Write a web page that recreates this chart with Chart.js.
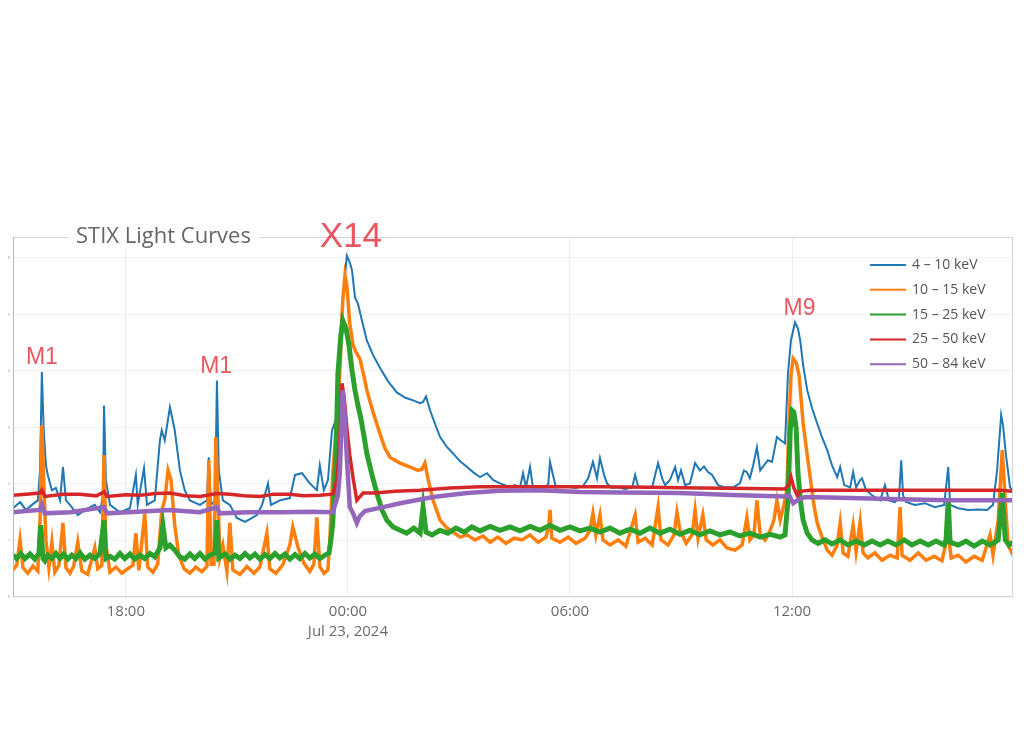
<!DOCTYPE html>
<html>
<head>
<meta charset="utf-8">
<title>STIX Light Curves</title>
<script src="https://cdn.jsdelivr.net/npm/chart.js@4.4.1/dist/chart.umd.min.js"></script>
<style>
    html, body { margin: 0; padding: 0; background: #ffffff; }
    #wrap { width: 1024px; height: 756px; position: relative; }
</style>
</head>
<body>
<div id="wrap"><canvas id="stixChart"></canvas></div>
<script>
// ============ DATA ============
// time = hours since Jul 22, 2024 00:00 UT, values = log10 counts
const chartTitle = 'STIX Light Curves';
const bandNames = ['4 – 10 keV', '10 – 15 keV', '15 – 25 keV', '25 – 50 keV', '50 – 84 keV'];

const blueHours = [14.95, 15.14, 15.30, 15.46, 15.62, 15.68, 15.73, 15.78, 15.84, 15.89, 16.00, 16.11, 16.22, 16.30, 16.38, 16.49, 16.70, 16.89, 17.16, 17.30, 17.38, 17.41, 17.46, 17.57, 17.84, 18.11, 18.27, 18.32, 18.49, 18.57, 18.78, 18.92, 18.97, 19.05, 19.19, 19.32, 19.46, 19.59, 19.73, 20.00, 20.19, 20.24, 20.30, 20.41, 20.46, 20.51, 20.62, 20.81, 21.00, 21.22, 21.54, 21.68, 21.84, 21.92, 22.16, 22.43, 22.57, 22.76, 22.97, 23.16, 23.24, 23.35, 23.46, 23.57, 23.70, 23.84, 23.92, 23.97, 24.05, 24.11, 24.19, 24.27, 24.38, 24.51, 24.68, 24.86, 25.08, 25.32, 25.54, 25.76, 25.95, 26.03, 26.11, 26.22, 26.35, 26.49, 26.68, 26.84, 27.03, 27.22, 27.38, 27.57, 27.76, 27.92, 28.11, 28.24, 28.38, 28.51, 28.65, 28.73, 28.81, 28.92, 29.00, 29.19, 29.41, 29.46, 29.54, 29.62, 29.86, 30.14, 30.35, 30.49, 30.62, 30.73, 30.81, 30.92, 31.00, 31.14, 31.27, 31.49, 31.68, 31.76, 31.84, 32.03, 32.22, 32.38, 32.49, 32.57, 32.70, 32.84, 32.92, 33.00, 33.11, 33.24, 33.38, 33.51, 33.62, 33.73, 33.84, 34.00, 34.19, 34.41, 34.59, 34.70, 34.78, 34.86, 34.95, 35.05, 35.14, 35.24, 35.35, 35.46, 35.59, 35.70, 35.81, 35.89, 35.97, 36.08, 36.16, 36.22, 36.30, 36.41, 36.54, 36.68, 36.81, 36.95, 37.08, 37.22, 37.30, 37.41, 37.57, 37.65, 37.73, 37.84, 37.89, 38.00, 38.16, 38.38, 38.51, 38.62, 38.78, 38.89, 38.95, 39.00, 39.08, 39.32, 39.59, 39.86, 40.11, 40.22, 40.27, 40.49, 40.76, 41.03, 41.27, 41.43, 41.54, 41.65, 41.70, 41.78, 41.89, 41.97];
const blueCounts = [1.57, 1.68, 1.54, 1.63, 1.71, 2.24, 3.98, 2.95, 2.33, 2.16, 1.89, 1.93, 1.71, 2.30, 1.71, 1.63, 1.45, 1.54, 1.63, 1.50, 1.80, 3.39, 2.07, 1.63, 1.50, 1.57, 2.16, 1.63, 2.28, 1.63, 1.71, 2.77, 2.95, 2.77, 3.36, 2.95, 2.24, 1.89, 1.71, 1.63, 1.71, 2.47, 1.63, 1.71, 3.83, 2.24, 1.71, 1.63, 1.40, 1.33, 1.45, 1.63, 2.01, 1.63, 1.71, 1.75, 2.16, 2.19, 2.01, 1.89, 2.33, 1.89, 2.07, 2.95, 3.18, 5.12, 5.69, 6.04, 5.92, 5.78, 5.30, 5.19, 4.89, 4.54, 4.28, 4.06, 3.82, 3.62, 3.53, 3.48, 3.43, 3.45, 3.55, 3.30, 3.07, 2.83, 2.65, 2.54, 2.40, 2.30, 2.21, 2.12, 2.19, 2.07, 2.01, 1.98, 1.94, 1.98, 1.94, 2.19, 1.94, 2.30, 1.93, 1.94, 1.98, 2.39, 2.16, 1.94, 1.96, 1.93, 1.96, 2.10, 2.39, 2.10, 2.46, 2.16, 2.01, 1.93, 1.94, 1.91, 1.94, 2.16, 1.96, 1.93, 1.94, 2.37, 2.10, 1.98, 2.07, 2.30, 2.07, 2.24, 1.98, 2.01, 2.37, 2.24, 2.31, 2.21, 2.16, 1.98, 1.94, 1.94, 2.01, 2.24, 2.21, 2.10, 2.33, 2.65, 2.24, 2.33, 2.42, 2.39, 2.83, 2.77, 2.72, 3.96, 4.54, 4.86, 4.75, 4.54, 4.10, 3.66, 3.34, 3.07, 2.83, 2.60, 2.33, 2.12, 2.30, 1.98, 1.94, 2.21, 1.94, 2.07, 2.10, 1.89, 1.80, 1.71, 1.98, 1.71, 1.68, 1.75, 2.42, 1.80, 1.68, 1.63, 1.66, 1.59, 1.63, 2.30, 1.63, 1.57, 1.54, 1.55, 1.54, 1.63, 2.24, 3.22, 3.04, 2.51, 1.94, 1.89];

const orangeHours = [14.95, 15.05, 15.14, 15.22, 15.35, 15.49, 15.62, 15.68, 15.73, 15.78, 15.84, 15.92, 16.00, 16.08, 16.19, 16.30, 16.38, 16.49, 16.59, 16.70, 16.81, 16.97, 17.16, 17.24, 17.35, 17.41, 17.46, 17.57, 17.73, 17.89, 18.05, 18.19, 18.27, 18.35, 18.51, 18.59, 18.73, 18.86, 18.97, 19.05, 19.14, 19.22, 19.32, 19.43, 19.57, 19.73, 19.89, 20.05, 20.19, 20.24, 20.30, 20.38, 20.43, 20.49, 20.54, 20.62, 20.73, 20.81, 20.89, 21.08, 21.27, 21.46, 21.62, 21.81, 21.89, 22.05, 22.24, 22.43, 22.51, 22.65, 22.81, 22.97, 23.08, 23.16, 23.24, 23.35, 23.46, 23.51, 23.59, 23.70, 23.78, 23.86, 23.92, 23.97, 24.05, 24.14, 24.22, 24.32, 24.43, 24.51, 24.68, 24.86, 25.00, 25.14, 25.41, 25.68, 25.89, 26.00, 26.08, 26.16, 26.30, 26.49, 26.68, 26.84, 27.03, 27.22, 27.43, 27.65, 27.84, 28.05, 28.27, 28.49, 28.70, 28.92, 29.14, 29.35, 29.43, 29.46, 29.51, 29.73, 29.95, 30.16, 30.41, 30.54, 30.62, 30.70, 30.81, 30.89, 31.08, 31.30, 31.51, 31.76, 31.84, 32.03, 32.22, 32.38, 32.46, 32.65, 32.81, 32.89, 32.97, 33.14, 33.30, 33.38, 33.46, 33.59, 33.68, 33.86, 34.05, 34.24, 34.46, 34.65, 34.78, 34.86, 34.97, 35.05, 35.14, 35.27, 35.41, 35.51, 35.59, 35.68, 35.78, 35.86, 35.92, 35.97, 36.03, 36.11, 36.19, 36.30, 36.41, 36.49, 36.59, 36.68, 36.81, 36.95, 37.08, 37.22, 37.30, 37.38, 37.51, 37.65, 37.73, 37.84, 37.92, 38.05, 38.24, 38.43, 38.65, 38.84, 38.92, 38.97, 39.19, 39.41, 39.62, 39.84, 40.05, 40.22, 40.30, 40.49, 40.70, 40.92, 41.14, 41.35, 41.43, 41.57, 41.68, 41.76, 41.84, 41.97];
const orangeCounts = [0.48, 0.56, 1.01, 0.52, 0.42, 0.55, 0.46, 1.36, 3.04, 2.07, 1.01, 0.52, 0.97, 0.44, 0.56, 1.31, 0.52, 0.42, 0.55, 0.97, 0.46, 0.40, 0.87, 0.50, 0.56, 2.51, 0.92, 0.44, 0.53, 0.42, 0.50, 0.56, 1.13, 0.47, 1.48, 0.53, 0.44, 0.58, 1.54, 1.71, 2.24, 2.07, 1.27, 0.74, 0.50, 0.42, 0.53, 0.45, 0.54, 2.42, 0.58, 0.58, 2.83, 1.71, 0.70, 0.92, 0.46, 1.31, 0.48, 0.40, 0.54, 0.42, 0.53, 1.13, 0.50, 0.42, 0.57, 0.92, 1.24, 0.88, 0.60, 0.45, 0.58, 1.41, 0.54, 0.42, 0.48, 1.01, 2.19, 3.13, 3.96, 5.25, 5.69, 5.51, 4.84, 4.45, 4.33, 4.22, 3.92, 3.66, 3.27, 2.90, 2.63, 2.47, 2.37, 2.30, 2.24, 2.26, 2.37, 2.10, 1.71, 1.36, 1.22, 1.15, 1.06, 1.10, 1.01, 1.08, 0.97, 1.06, 0.95, 1.04, 1.01, 1.10, 0.97, 1.06, 1.27, 1.54, 1.04, 0.97, 1.06, 0.95, 1.04, 1.18, 1.48, 1.10, 1.45, 1.01, 0.92, 1.01, 0.90, 1.45, 0.97, 1.04, 0.92, 1.59, 1.01, 0.92, 1.10, 1.50, 1.18, 0.95, 1.10, 1.54, 1.04, 1.45, 1.01, 0.92, 1.01, 0.87, 0.83, 0.92, 1.41, 1.01, 1.10, 1.71, 1.10, 1.01, 1.18, 1.36, 1.71, 1.36, 1.63, 1.89, 3.13, 3.92, 4.22, 4.15, 3.92, 3.07, 2.51, 2.12, 1.63, 1.31, 1.06, 0.83, 0.74, 0.92, 1.31, 0.78, 0.72, 1.27, 0.80, 1.33, 0.78, 0.69, 0.78, 0.65, 0.74, 0.69, 1.59, 0.74, 0.65, 0.78, 0.65, 0.72, 0.64, 1.13, 0.69, 0.74, 0.62, 0.72, 0.65, 1.10, 0.74, 1.36, 2.60, 1.71, 0.92, 0.74];

const greenHours = [14.95, 15.05, 15.16, 15.27, 15.41, 15.54, 15.65, 15.70, 15.76, 15.81, 15.89, 16.00, 16.11, 16.22, 16.32, 16.43, 16.54, 16.65, 16.76, 16.89, 17.03, 17.16, 17.30, 17.41, 17.46, 17.57, 17.70, 17.84, 17.97, 18.11, 18.24, 18.38, 18.51, 18.65, 18.78, 18.92, 19.00, 19.08, 19.19, 19.32, 19.46, 19.59, 19.73, 19.86, 20.00, 20.14, 20.27, 20.41, 20.46, 20.51, 20.68, 20.81, 20.95, 21.08, 21.22, 21.35, 21.49, 21.62, 21.76, 21.89, 22.03, 22.16, 22.30, 22.43, 22.57, 22.70, 22.84, 22.97, 23.11, 23.24, 23.38, 23.49, 23.54, 23.59, 23.68, 23.73, 23.81, 23.86, 23.95, 24.03, 24.11, 24.19, 24.27, 24.35, 24.43, 24.51, 24.65, 24.78, 24.92, 25.05, 25.22, 25.41, 25.59, 25.78, 25.95, 26.03, 26.11, 26.27, 26.49, 26.70, 26.92, 27.14, 27.35, 27.57, 27.84, 28.11, 28.38, 28.65, 28.92, 29.19, 29.46, 29.73, 30.00, 30.27, 30.54, 30.81, 31.08, 31.35, 31.62, 31.89, 32.16, 32.43, 32.70, 32.97, 33.24, 33.51, 33.78, 34.05, 34.32, 34.59, 34.86, 35.14, 35.41, 35.68, 35.81, 35.89, 35.95, 36.00, 36.05, 36.11, 36.16, 36.24, 36.30, 36.41, 36.54, 36.70, 36.89, 37.08, 37.30, 37.51, 37.73, 37.95, 38.16, 38.38, 38.59, 38.81, 39.03, 39.24, 39.46, 39.68, 39.89, 40.11, 40.16, 40.22, 40.27, 40.49, 40.70, 40.92, 41.14, 41.35, 41.57, 41.68, 41.76, 41.86, 41.97];
const greenCounts = [0.74, 0.68, 0.77, 0.68, 0.76, 0.67, 0.77, 1.27, 0.68, 0.64, 0.74, 0.68, 0.77, 0.68, 0.76, 0.67, 0.74, 0.68, 0.78, 0.67, 0.74, 0.68, 0.77, 1.36, 0.68, 0.72, 0.67, 0.77, 0.68, 0.76, 0.67, 0.74, 0.68, 0.77, 0.71, 0.87, 1.27, 0.87, 0.92, 0.83, 0.71, 0.67, 0.76, 0.68, 0.77, 0.67, 0.74, 0.78, 1.36, 0.69, 0.76, 0.67, 0.74, 0.68, 0.77, 0.69, 0.76, 0.67, 0.75, 0.68, 0.77, 0.69, 0.76, 0.67, 0.75, 0.68, 0.77, 0.69, 0.76, 0.68, 0.74, 0.78, 1.01, 1.31, 2.60, 3.96, 4.63, 4.89, 4.75, 4.45, 4.01, 3.66, 3.39, 3.16, 2.86, 2.54, 2.16, 1.84, 1.54, 1.36, 1.24, 1.18, 1.13, 1.22, 1.13, 1.59, 1.15, 1.10, 1.18, 1.13, 1.22, 1.15, 1.24, 1.17, 1.25, 1.18, 1.24, 1.17, 1.25, 1.18, 1.27, 1.18, 1.24, 1.17, 1.22, 1.15, 1.22, 1.13, 1.20, 1.13, 1.22, 1.13, 1.20, 1.11, 1.18, 1.10, 1.17, 1.10, 1.15, 1.08, 1.13, 1.06, 1.11, 1.06, 1.10, 1.71, 2.95, 3.30, 3.27, 2.99, 2.19, 1.63, 1.36, 1.13, 1.01, 0.95, 1.01, 0.94, 1.01, 0.92, 0.99, 0.92, 0.99, 0.92, 0.99, 0.92, 1.01, 0.92, 0.99, 0.92, 0.99, 0.92, 1.01, 1.71, 0.97, 0.92, 0.99, 0.90, 0.99, 0.92, 1.01, 1.84, 1.01, 0.92, 0.97];

const redHours = [14.95, 15.30, 15.68, 15.73, 15.81, 16.30, 16.76, 17.20, 17.41, 17.49, 18.00, 18.38, 18.80, 19.19, 19.60, 20.00, 20.46, 20.81, 21.20, 21.62, 22.00, 22.43, 22.80, 23.24, 23.59, 23.70, 23.78, 23.84, 23.89, 23.97, 24.05, 24.14, 24.24, 24.32, 24.41, 24.73, 25.27, 25.95, 26.76, 27.57, 28.65, 29.73, 30.81, 32.16, 33.51, 34.86, 35.81, 35.92, 35.97, 36.05, 36.14, 36.22, 36.49, 37.57, 38.92, 40.27, 41.62, 41.97];
const redCounts = [1.80, 1.82, 1.84, 1.89, 1.78, 1.82, 1.82, 1.79, 1.86, 1.78, 1.81, 1.80, 1.83, 1.84, 1.79, 1.78, 1.83, 1.82, 1.79, 1.78, 1.82, 1.82, 1.79, 1.80, 1.82, 2.07, 2.77, 3.78, 3.57, 3.00, 2.51, 2.10, 1.71, 1.77, 1.84, 1.84, 1.87, 1.89, 1.93, 1.95, 1.95, 1.95, 1.95, 1.94, 1.93, 1.92, 1.91, 2.00, 2.12, 1.93, 1.80, 1.87, 1.89, 1.89, 1.89, 1.89, 1.89, 1.87];

const purpleHours = [14.95, 15.30, 15.68, 15.73, 15.81, 16.50, 17.41, 17.49, 18.30, 19.19, 20.00, 20.46, 20.54, 21.30, 22.16, 23.00, 23.59, 23.73, 23.78, 23.86, 23.92, 23.97, 24.05, 24.14, 24.24, 24.32, 24.46, 24.95, 25.41, 26.30, 27.22, 28.11, 29.19, 30.27, 31.35, 32.97, 34.59, 35.81, 35.92, 36.03, 36.14, 36.35, 37.57, 38.92, 40.27, 41.62, 41.97];
const purpleCounts = [1.50, 1.52, 1.54, 1.63, 1.48, 1.50, 1.59, 1.48, 1.51, 1.54, 1.50, 1.59, 1.48, 1.50, 1.50, 1.51, 1.50, 1.80, 2.19, 3.66, 3.13, 2.47, 1.59, 1.48, 1.31, 1.43, 1.52, 1.59, 1.66, 1.77, 1.84, 1.88, 1.89, 1.86, 1.85, 1.84, 1.80, 1.78, 1.80, 1.66, 1.71, 1.77, 1.75, 1.73, 1.71, 1.71, 1.71];

// x axis ticks (hours) and their labels
const tickHours = [18, 24, 30, 36];
const tickLabels = ['18:00', ['00:00', 'Jul 23, 2024'], '06:00', '12:00'];
const hourMin = 14.95;
const hourMax = 41.97;

// flare class labels and the time of the flare peak
const flareLabels = ['M1', 'M1', 'X14', 'M9'];
const flareHours = [15.73, 20.44, 24.08, 36.20];

// ============ HELPERS ============
function toPoints(hours, counts) {
    return hours.map((h, i) => ({ x: h, y: counts[i] }));
}

const seriesHours = [blueHours, orangeHours, greenHours, redHours, purpleHours];
const seriesCounts = [blueCounts, orangeCounts, greenCounts, redCounts, purpleCounts];
const seriesColors = ['#1f77b4', '#ff7f0e', '#2ca02c', '#d62728', '#9467bd'];
const seriesWidths = [2, 3.5, 5, 3.5, 4.5];

// ============ DECORATION PLUGIN (frame, title, legend, flare labels) ============
const stixDecor = {
    id: 'stixDecor',
    afterDatasetsDraw(chart) {
        const { ctx, chartArea: a, scales } = chart;
        ctx.save();

        // plot frame
        ctx.strokeStyle = '#d4d4d4';
        ctx.lineWidth = 1;
        ctx.strokeRect(a.left + 0.5, a.top + 0.5, a.right - a.left - 1, a.bottom - a.top - 1);
        ctx.strokeStyle = '#b8b8b8';
        ctx.beginPath();
        ctx.moveTo(a.left + 0.5, a.top);
        ctx.lineTo(a.left + 0.5, a.bottom);
        ctx.stroke();

        // title sitting on the top frame line
        ctx.font = '22px "Open Sans", sans-serif';
        ctx.textBaseline = 'middle';
        const tw = ctx.measureText(chartTitle).width;
        ctx.fillStyle = '#ffffff';
        ctx.fillRect(a.left + 55, a.top - 13, tw + 16, 26);
        ctx.fillStyle = '#666666';
        ctx.fillText(chartTitle, a.left + 63, a.top);

        // legend, top right inside the plot
        ctx.font = '14px "Open Sans", sans-serif';
        chart.data.datasets.forEach((ds, i) => {
            const y = a.top + 28 + i * 24.8;
            ctx.strokeStyle = ds.borderColor;
            ctx.lineWidth = 2;
            ctx.beginPath();
            ctx.moveTo(a.right - 143, y);
            ctx.lineTo(a.right - 107, y);
            ctx.stroke();
            ctx.fillStyle = '#555555';
            ctx.fillText(ds.label, a.right - 101, y);
        });

        // flare class labels above the 4-10 keV peaks
        ctx.fillStyle = 'rgba(228, 70, 80, 0.9)';
        ctx.textAlign = 'center';
        flareLabels.forEach((label, i) => {
            let peak = 0;
            blueHours.forEach((h, j) => {
                if (Math.abs(h - flareHours[i]) < 0.25 && blueCounts[j] > peak) peak = blueCounts[j];
            });
            const big = label[0] === 'X';
            ctx.font = (big ? '35px' : '23px') + ' "Liberation Sans", Arial, sans-serif';
            const px = scales.x.getPixelForValue(flareHours[i]);
            const py = scales.y.getPixelForValue(peak) - (big ? 18 : 14);
            ctx.fillText(label, px, py);
        });

        ctx.restore();
    }
};

// ============ BUILD CHART ============
Chart.defaults.font.family = '"Open Sans", sans-serif';

const datasets = bandNames.map((name, i) => ({
    label: name,
    data: toPoints(seriesHours[i], seriesCounts[i]),
    borderColor: seriesColors[i],
    backgroundColor: seriesColors[i],
    borderWidth: seriesWidths[i],
    pointRadius: 0,
    tension: 0,
    fill: false,
    order: bandNames.length - i
}));

const ctx = document.getElementById('stixChart').getContext('2d');
new Chart(ctx, {
    type: 'line',
    data: { datasets: datasets },
    options: {
        responsive: true,
        maintainAspectRatio: false,
        animation: false,
        layout: { padding: { top: 237, right: 11, left: 0, bottom: 0 } },
        plugins: {
            legend: { display: false },
            tooltip: { enabled: false }
        },
        scales: {
            x: {
                type: 'linear',
                min: hourMin,
                max: hourMax,
                afterBuildTicks: (scale) => {
                    scale.ticks = tickHours.map(v => ({ value: v }));
                },
                afterFit: (scale) => { scale.height = 159; },
                ticks: {
                    autoSkip: false,
                    maxRotation: 0,
                    padding: 5,
                    color: '#6a6a6a',
                    font: { size: 15, lineHeight: 1.3 },
                    callback: (value, index) => tickLabels[index]
                },
                grid: { color: '#ececec', drawTicks: false },
                border: { display: false }
            },
            y: {
                type: 'linear',
                min: 0,
                max: 6.37,
                afterFit: (scale) => { scale.width = 13; },
                ticks: {
                    stepSize: 1,
                    includeBounds: false,
                    padding: 3,
                    color: '#999999',
                    font: { size: 4 }
                },
                grid: { color: '#f2f2f2', drawTicks: false },
                border: { display: false }
            }
        }
    },
    plugins: [stixDecor]
});
</script>
</body>
</html>
